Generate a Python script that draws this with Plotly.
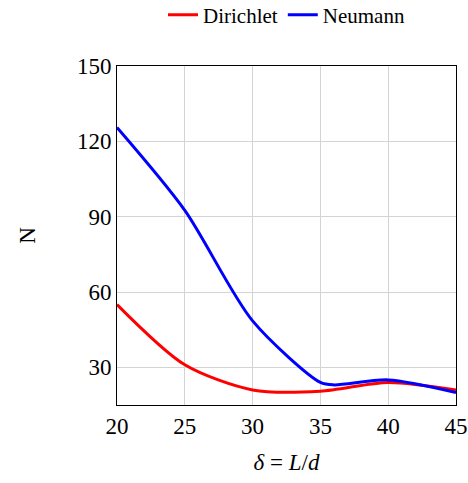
import plotly.graph_objects as go

x_vals = [20, 25, 30, 35, 40, 45]
dirichlet = [55, 31, 21, 20.5, 24, 21]
neumann_x = [20, 25, 30, 35, 36, 40, 45]
neumann = [125.5, 92.5, 48.5, 24, 23, 25, 20]

x_ticks = [20, 25, 30, 35, 40, 45]
y_ticks = [30, 60, 90, 120, 150]

font_family = "Liberation Serif, DejaVu Serif, serif"

fig = go.Figure()
fig.add_trace(go.Scatter(x=x_vals, y=dirichlet, mode="lines", name="Dirichlet",
                         line=dict(color="#ff0000", width=3, shape="spline", smoothing=0.8)))
fig.add_trace(go.Scatter(x=neumann_x, y=neumann, mode="lines", name="Neumann",
                         line=dict(color="#0000ff", width=3, shape="spline", smoothing=0.8)))

fig.update_layout(
    width=468, height=483,
    margin=dict(l=117, r=12, t=66, b=78, autoexpand=False),
    paper_bgcolor="white", plot_bgcolor="white",
    font=dict(family=font_family, color="black", size=22),
    showlegend=True,
    legend=dict(orientation="h", x=0.5, xanchor="center", y=1.15, yanchor="middle",
                font=dict(size=21, family=font_family),
                tracegroupgap=0, bgcolor="rgba(0,0,0,0)"),
    xaxis=dict(range=[20, 45], tickvals=x_ticks, showgrid=True, gridcolor="#d3d3d3",
               gridwidth=1, showline=True, linecolor="black", linewidth=1, mirror=True,
               zeroline=False, ticks="", tickfont=dict(size=23),
               title=dict(text="<i>δ</i> = <i>L</i>/<i>d</i>", font=dict(size=23), standoff=16)),
    yaxis=dict(range=[15, 150], tickvals=y_ticks, showgrid=True, gridcolor="#d3d3d3",
               gridwidth=1, showline=True, linecolor="black", linewidth=1, mirror=True,
               zeroline=False, ticks="", tickfont=dict(size=23),
               title=dict(text="N", font=dict(size=23), standoff=34)),
)

fig.write_html("out.html")
